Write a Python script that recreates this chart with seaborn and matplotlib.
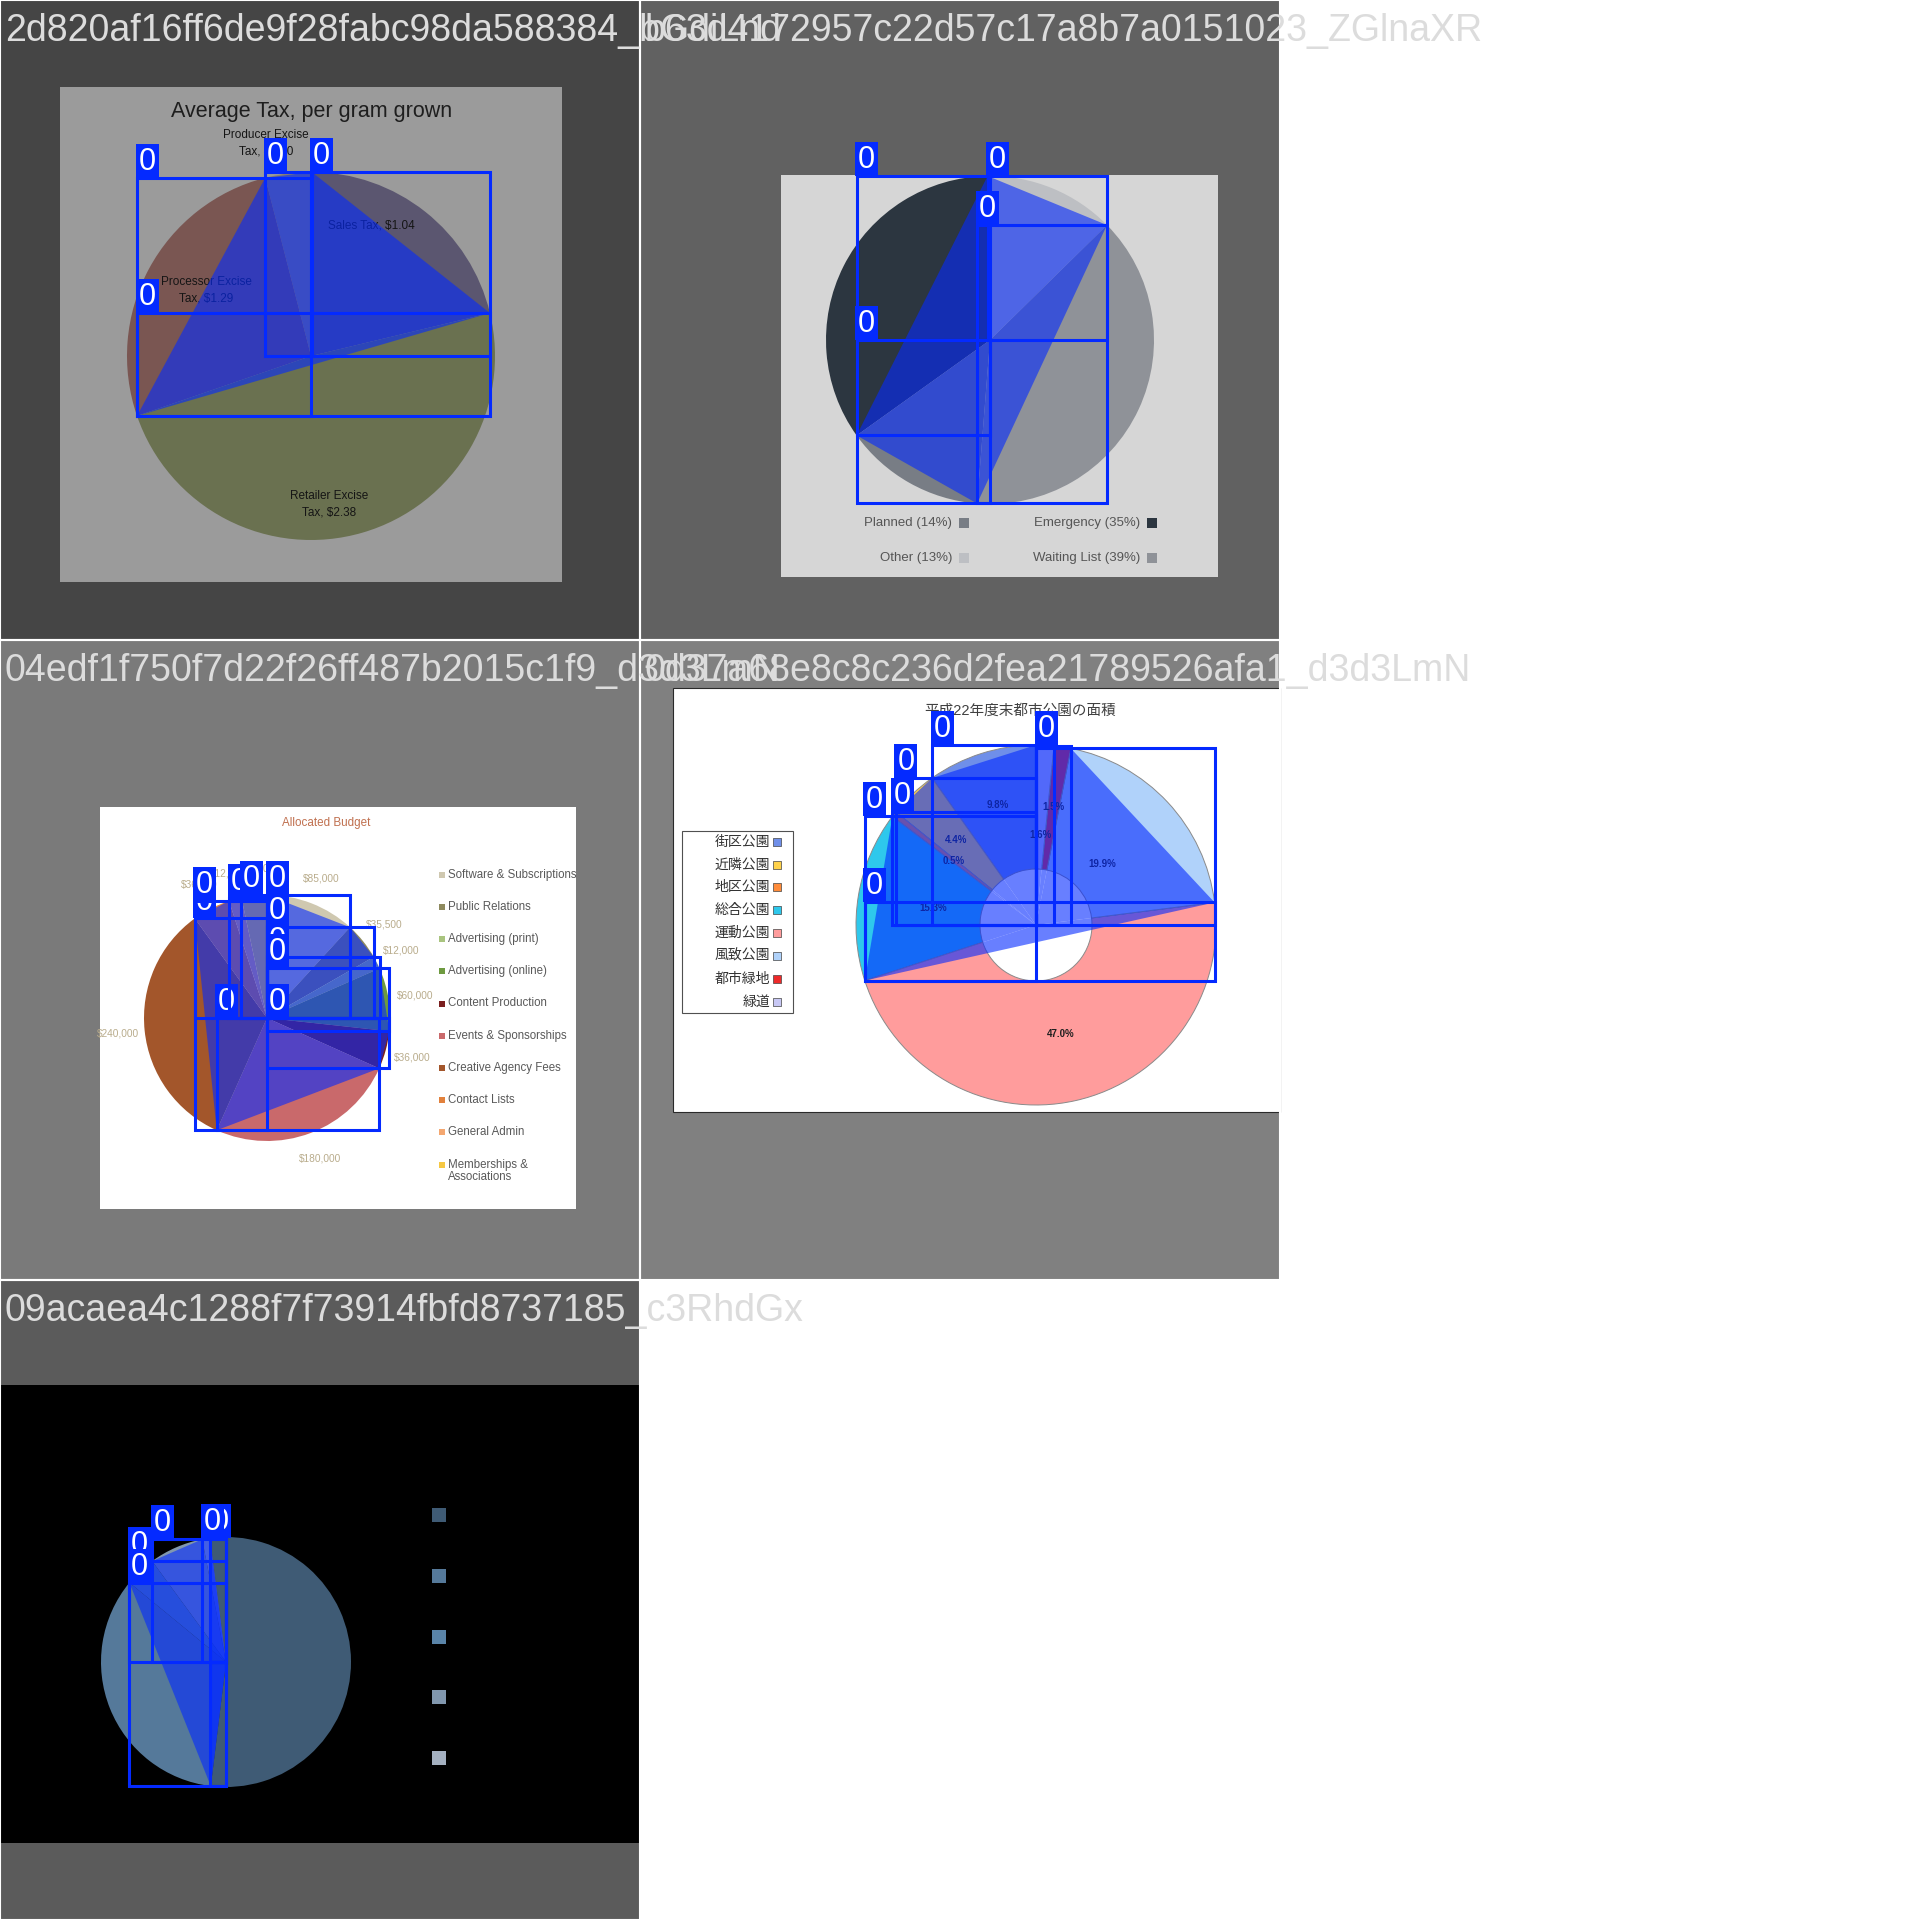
"""
Mosaic of five labelled pie-chart images (training batch preview).
Pies are drawn with matplotlib's pie on one pixel-sized axes; the blue
masks and boxes are derived from the wedges that pie returns.
"""
import textwrap
import numpy as np
import matplotlib
matplotlib.use("Agg")
import matplotlib.pyplot as plt
from matplotlib.patches import Rectangle, Polygon
import seaborn as sns

sns.set_theme(style="white")
plt.rcParams["font.family"] = ["Liberation Sans", "Noto Sans CJK JP", "DejaVu Sans"]

# ── Data ───────────────────────────────────────────────────────────────────
NAMES = [
    "2d820af16ff6de9f28fabc98da588384_bGdiLnd",
    "b63d4172957c22d57c17a8b7a0151023_ZGlnaXR",
    "04edf1f750f7d22f26ff487b2015c1f9_d3d3LmN",
    "0d37a68e8c8c236d2fea21789526afa1_d3d3LmN",
    "09acaea4c1288f7f73914fbfd8737185_c3RhdGx",
]

T1_TITLE = "Average Tax, per gram grown"
T1_CATS = ["Sales Tax", "Producer Excise Tax", "Processor Excise Tax", "Retailer Excise Tax"]
T1_VALS = [1.04, 0.20, 1.29, 2.38]

T2_CATS = ["Other", "Emergency", "Planned", "Waiting List"]
T2_PCT = [13, 35, 14, 39]

T3_TITLE = "Allocated Budget"
T3_CATS = ["Software & Subscriptions", "Public Relations", "Advertising (print)",
           "Advertising (online)", "Content Production", "Events & Sponsorships",
           "Creative Agency Fees", "Contact Lists", "General Admin",
           "Memberships & Associations"]
T3_VALS = [85000, 35500, 12000, 60000, 36000, 180000, 240000, 36000, 12000, 24000]

T4_TITLE = "平成22年度末都市公園の面積"
T4_CATS = ["街区公園", "近隣公園", "地区公園", "総合公園", "運動公園", "風致公園", "都市緑地", "緑道"]
T4_PCT = [9.8, 4.4, 0.5, 15.3, 47.0, 19.9, 1.5, 1.6]

T5_VALS = [54, 1, 7, 4, 34]

# ── Style ──────────────────────────────────────────────────────────────────
BLUE = "#042AFF"
NAME_COLOR = "#DCDCDC"
TILE_XY = [(0, 0), (640, 0), (0, 640), (640, 640), (0, 1280)]
TILE_BG = ["#454545", "#616161", "#7A7A7A", "#808080", "#5B5B5B"]

T1_COLORS = ["#5B5670", "#8A8070", "#7A5652", "#6A7150"]
T2_COLORS = ["#BDBFC3", "#2C3640", "#787D85", "#8F9298"]
T3_COLORS = ["#CFC8B0", "#8E8A5E", "#A9C47F", "#6E9A40", "#7A1F1F",
             "#C9696B", "#A3562B", "#E2813C", "#F4A770", "#F6C843"]
T4_COLORS = ["#6F8FE9", "#FFD24A", "#FF8C3A", "#2EC8EC",
             "#FF9C9C", "#B0D2FA", "#EE2A2A", "#C8C8F5"]
T5_COLORS = ["#3F5B75", "#A4B0C0", "#8197AE", "#5A84A8", "#55799A"]

# label radius (fraction of outer radius) for each doughnut slice
T4_LABEL_DIST = [0.70, 0.65, 0.58, 0.58, 0.62, 0.50, 0.66, 0.50]

fig = plt.figure(figsize=(19.2, 19.2), dpi=100)
fig.patch.set_facecolor("white")
ax = fig.add_axes([0, 0, 1, 1])


def rect(tile, x, y, w, h, **kw):
    ox, oy = tile
    p = Rectangle((ox + x, oy + y), w, h, **kw)
    ax.add_patch(p)
    return p


def text(tile, x, y, s, **kw):
    ox, oy = tile
    return ax.text(ox + x, oy + y, s, **kw)


def draw_pie(tile, cx, cy, r, vals, colors, start, ccw, wprops=None, **kw):
    ox, oy = tile
    wp = {"zorder": 3, "linewidth": 0}
    if wprops:
        wp.update(wprops)
    out = ax.pie(vals, colors=colors, center=(ox + cx, oy + cy), radius=r,
                 startangle=start, counterclock=ccw, frame=True,
                 wedgeprops=wp, **kw)
    return out[0]


def annotate(wedges):
    """mask = triangle (centre + arc ends) of each wedge, box = its bounds"""
    boxes = []
    for w in wedges:
        cx, cy = w.center
        pts = [(cx, cy)]
        for t in (w.theta1, w.theta2):
            pts.append((cx + w.r * np.cos(np.radians(t)),
                        cy + w.r * np.sin(np.radians(t))))
        ax.add_patch(Polygon(pts, closed=True, fc=BLUE, ec="none",
                             alpha=0.6, zorder=5))
        xs, ys = zip(*pts)
        boxes.append((min(xs), min(ys), max(xs), max(ys)))
    for x1, y1, x2, y2 in boxes:
        ax.add_patch(Rectangle((x1, y1), x2 - x1, y2 - y1, fill=False,
                               ec=BLUE, lw=2.2, zorder=6))
        ax.add_patch(Rectangle((x1 - 1.5, y1 - 34), 23, 34, fc=BLUE,
                               ec="none", zorder=6))
        ax.text(x1 + 10, y1 - 16, "0", color="white", fontsize=22,
                ha="center", va="center", zorder=6)


# ── Tile backgrounds ───────────────────────────────────────────────────────
for xy, bg in zip(TILE_XY, TILE_BG):
    rect(xy, 0, 0, 640, 640, fc=bg, ec="none", zorder=0.5)

# ── Tile 1: Average tax ────────────────────────────────────────────────────
t = TILE_XY[0]
rect(t, 60, 87, 502, 495, fc="#9B9B9B", ec="none", zorder=1)
text(t, 312, 111, T1_TITLE, fontsize=15.5, color="#1E1E1E",
     ha="center", va="center", zorder=4)
w1 = draw_pie(t, 311, 356, 184, T1_VALS, T1_COLORS, -13.5, False)
T1_LABEL_XY = [(371, 226), (266, 143), (206, 290), (329, 504)]
for (lx, ly), c, v in zip(T1_LABEL_XY, T1_CATS, T1_VALS):
    lab = f"{c}, ${v:.2f}".replace("Excise Tax", "Excise\nTax")
    text(t, lx, ly, lab, fontsize=8.5, color="#151515", ha="center",
         va="center", linespacing=1.45, zorder=4)
annotate(w1)

# ── Tile 2: Emergency / waiting list ───────────────────────────────────────
t = TILE_XY[1]
rect(t, 141, 175, 437, 402, fc="#D6D6D6", ec="none", zorder=1)
w2 = draw_pie(t, 350, 340, 164, T2_PCT, T2_COLORS, -44.5, False)
T2_LEG_XY = {"Emergency": (512, 523), "Waiting List": (512, 558),
             "Planned": (324, 523), "Other": (324, 558)}
for c, p, col in zip(T2_CATS, T2_PCT, T2_COLORS):
    lx, ly = T2_LEG_XY[c]
    ax.scatter([t[0] + lx], [t[1] + ly], marker="s", s=42, color=col,
               linewidths=0, zorder=4)
    text(t, lx - 12, ly, f"{c} ({p}%)", fontsize=9.5, color="#555555",
         ha="right", va="center", zorder=4)
annotate(w2)

# ── Tile 3: Allocated budget ───────────────────────────────────────────────
t = TILE_XY[2]
chart3 = rect(t, 100, 167, 476, 402, fc="white", ec="none", zorder=1)
text(t, 326, 183, T3_TITLE, fontsize=8.4, color="#C0704F",
     ha="center", va="center", zorder=4)
w3 = draw_pie(t, 267, 378, 123, T3_VALS, T3_COLORS, -90, True,
              labels=[f"${v:,.0f}" for v in T3_VALS], labeldistance=1.22,
              textprops={"fontsize": 7.3, "color": "#B9AC8C", "ha": "center",
                         "va": "center", "zorder": 4})
for i, (c, col) in enumerate(zip(T3_CATS, T3_COLORS)):
    ly = 234.7 + i * 32.2
    ax.scatter([t[0] + 441.6], [t[1] + ly], marker="s", s=14, color=col,
               linewidths=0, zorder=4)
    lab = textwrap.fill(c, 25)
    shift = 6.5 if "\n" in lab else 0
    tx = text(t, 448, ly + shift, lab, fontsize=8.3, color="#595959",
              ha="left", va="center", linespacing=1.1, zorder=4)
    tx.set_clip_path(chart3)
annotate(w3)

# ── Tile 4: 都市公園 doughnut ──────────────────────────────────────────────
t = TILE_XY[3]
rect(t, 33, 48, 607, 424, fc="white", ec="#2A2A2A", lw=0.8, zorder=1)
text(t, 380, 71, T4_TITLE, fontsize=10.5, color="#404040",
     ha="center", va="center", zorder=4)
w4 = draw_pie(t, 396, 285, 180, T4_PCT, T4_COLORS, -90, False,
              wprops={"width": 124, "edgecolor": "#8A8A8A", "linewidth": 0.7})
for w, p, d in zip(w4, T4_PCT, T4_LABEL_DIST):
    mid = np.radians((w.theta1 + w.theta2) / 2)
    ax.text(w.center[0] + d * w.r * np.cos(mid),
            w.center[1] + d * w.r * np.sin(mid), f"{p:.1f}%",
            fontsize=7, color="#1E1E1E", weight="bold",
            ha="center", va="center", zorder=4)
rect(t, 41.7, 190.7, 111, 182.6, fc="white", ec="#505050", lw=0.8, zorder=2)
for i, (c, col) in enumerate(zip(T4_CATS, T4_COLORS)):
    ly = 201.7 + i * 22.86
    ax.scatter([t[0] + 137.3], [t[1] + ly], marker="s", s=26, color=col,
               edgecolors="#444444", linewidths=0.5, zorder=4)
    text(t, 130, ly, c, fontsize=10, color="#333333", ha="right",
         va="center", zorder=4)
annotate(w4)

# ── Tile 5: dark pie, legend without text ──────────────────────────────────
t = TILE_XY[4]
rect(t, 0, 105, 640, 458, fc="black", ec="none", zorder=1)
w5 = draw_pie(t, 226, 382, 125, T5_VALS, T5_COLORS, -263, False)
T5_LEG_ORDER = [0, 4, 3, 2, 1]
for i, k in enumerate(T5_LEG_ORDER):
    ax.scatter([t[0] + 439], [t[1] + 235 + i * 60.8], marker="s", s=100,
               color=T5_COLORS[k], linewidths=0, zorder=4)
annotate(w5)

# ── Tile borders and file names ────────────────────────────────────────────
for xy in TILE_XY:
    rect(xy, 0, 0, 640, 640, fill=False, ec="white", lw=1.5, zorder=9)
for xy, name in zip(TILE_XY, NAMES):
    text(xy, 5, 41, name, fontsize=27, color=NAME_COLOR, ha="left",
         va="baseline", zorder=10, clip_on=False)

ax.set_xlim(0, 1920)
ax.set_ylim(1920, 0)
ax.set_aspect("equal")
ax.axis("off")

fig.savefig("out.png", dpi=100, facecolor="white")
print("saved out.png")
